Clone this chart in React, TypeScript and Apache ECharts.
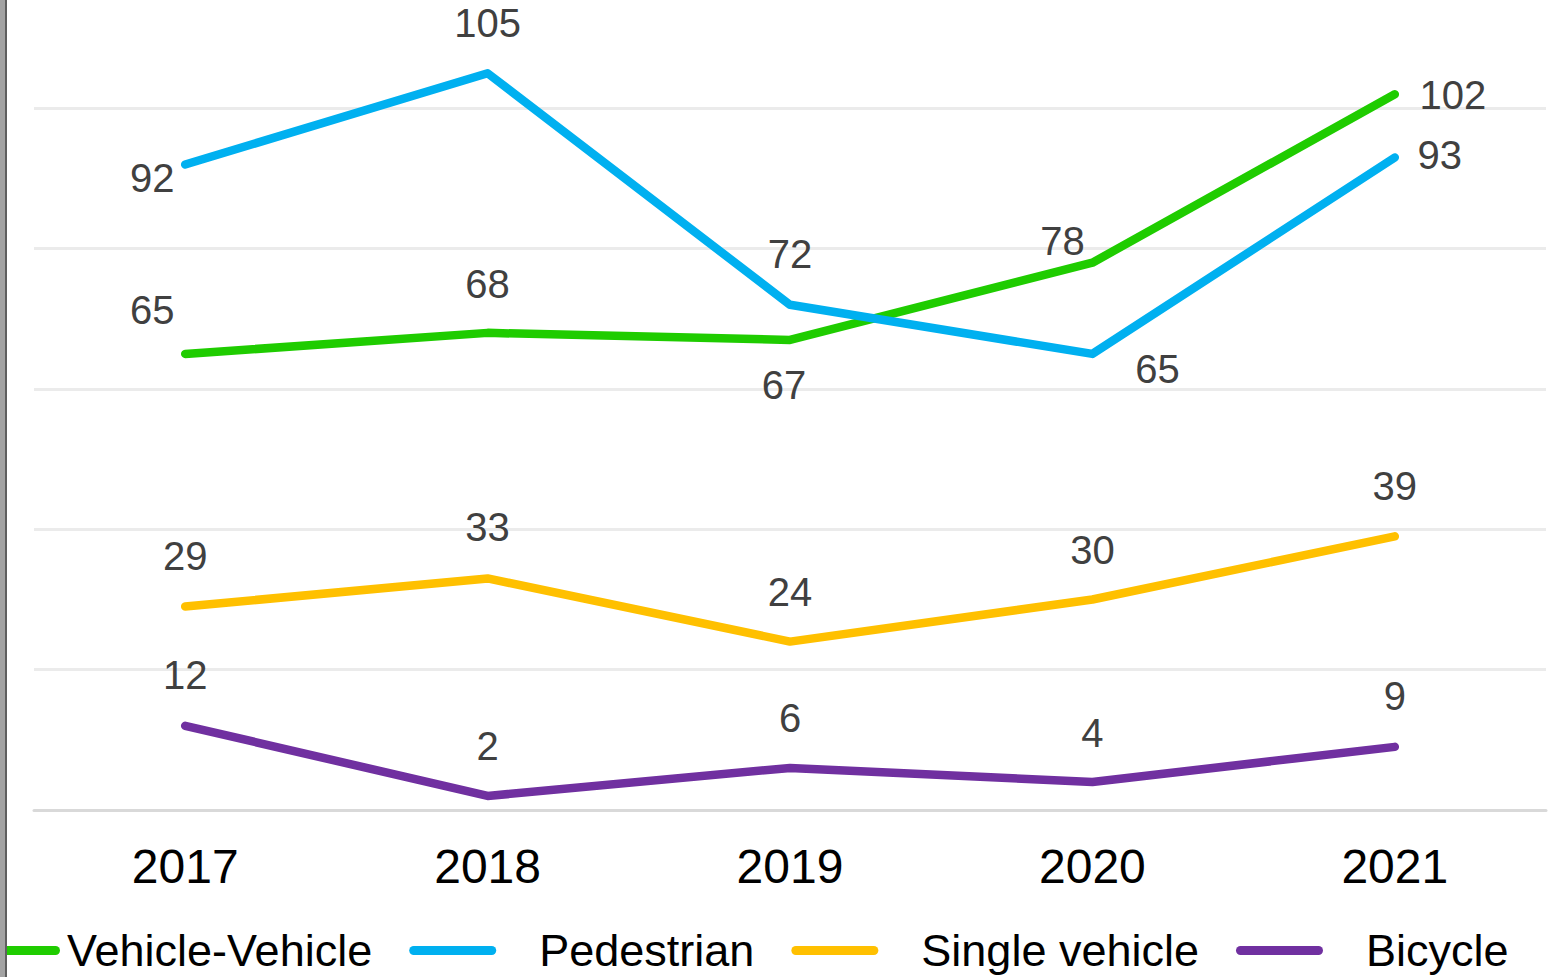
import React, { useEffect, useRef } from "react";
import * as echarts from "echarts";

const years = ["2017", "2018", "2019", "2020", "2021"];
const vehicleVehicle = [65, 68, 67, 78, 102];
const pedestrian = [92, 105, 72, 65, 93];
const singleVehicle = [29, 33, 24, 30, 39];
const bicycle = [12, 2, 6, 4, 9];
const seriesNames = ["Vehicle-Vehicle", "Pedestrian", "Single vehicle", "Bicycle"];

// layout: label offsets (px) from each point
const LABEL_OFFSETS: Record<string, number[][]> = {
  "Vehicle-Vehicle": [[-33, -44], [0, -49], [-6, 45], [-30, -22], [58, 1]],
  Pedestrian: [[-33, 14], [0, -50], [0, -51], [65, 15], [45, -2]],
  "Single vehicle": [[0, -51], [0, -51], [0, -50], [0, -50], [0, -50]],
  Bicycle: [[0, -51], [0, -50], [0, -50], [0, -49], [0, -51]],
};
const COLORS = ["#1fcc00", "#00b0f0", "#ffc000", "#7030a0"];
const FONT = "'Liberation Sans', Arial, sans-serif";
const ICON = "path://M4.5,0H82.5A4.5,4.5,0,0,1,82.5,9H4.5A4.5,4.5,0,0,1,4.5,0Z";

export default function App() {
  const ref = useRef<HTMLDivElement>(null);
  useEffect(() => {
    if (!ref.current) return;
    const chart = echarts.init(ref.current, undefined, { renderer: "svg" });
    const values = [vehicleVehicle, pedestrian, singleVehicle, bicycle];
    chart.setOption({
      animation: false,
      backgroundColor: "#ffffff",
      grid: { left: 34, right: 6, top: -32, bottom: 167, containLabel: false, outerBoundsMode: "none" },
      legend: {
        left: -32,
        top: 923,
        itemWidth: 87,
        itemHeight: 9,
        itemGap: 37,
        icon: ICON,
        data: seriesNames.map((n, i) => ({
          name: n,
          textStyle: { padding: i === 0 ? [0, 0, 0, 2] : [0, 0, 0, 38] },
        })),
        textStyle: { fontFamily: FONT, fontSize: 45, color: "#000000" },
      },
      xAxis: {
        type: "category",
        data: years,
        boundaryGap: true,
        axisLine: { lineStyle: { color: "#d9d9d9", width: 3 } },
        axisTick: { show: false },
        axisLabel: { fontFamily: FONT, fontSize: 48, color: "#000000", margin: 32 },
        splitLine: { show: false },
      },
      yAxis: {
        type: "value",
        min: 0,
        max: 120,
        interval: 20,
        axisLine: { show: false },
        axisTick: { show: false },
        axisLabel: { show: false },
        splitLine: { lineStyle: { color: "#ebebeb", width: 3 } },
      },
      series: seriesNames.map((name, si) => ({
        name,
        type: "line",
        color: COLORS[si],
        symbol: "circle",
        symbolSize: 1,
        showSymbol: true,
        lineStyle: { width: 8.5, cap: "round", join: "round", color: COLORS[si] },
        itemStyle: { color: COLORS[si] },
        label: {
          show: true,
          position: "inside",
          fontFamily: FONT,
          fontSize: 40,
          color: "#404040",
          textBorderWidth: 0,
        },
        data: values[si].map((v, i) => ({
          value: v,
          label: { offset: LABEL_OFFSETS[name][i] },
        })),
      })),
      graphic: [
        { type: "rect", left: 0, top: 0, shape: { width: 5, height: 977 }, style: { fill: "#a3a3a3" }, z: 100 },
        { type: "rect", left: 5, top: 0, shape: { width: 2, height: 977 }, style: { fill: "#5f5f5f" }, z: 100 },
      ],
    });
    return () => chart.dispose();
  }, []);
  return (
    <div
      ref={ref}
      style={{ position: "fixed", left: 0, top: 0, width: 1552, height: 977 }}
    />
  );
}
